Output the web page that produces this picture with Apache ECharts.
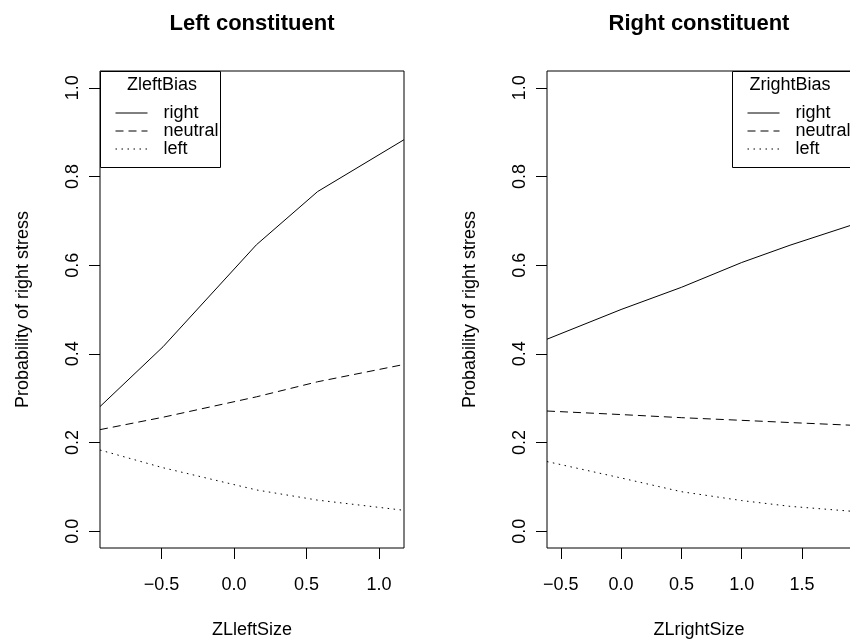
<!DOCTYPE html>
<html><head><meta charset="utf-8">
<script src="https://cdn.jsdelivr.net/npm/echarts@6/dist/echarts.min.js"></script>
<style>html,body{margin:0;padding:0;background:#fff}#c{width:850px;height:639px}</style>
</head><body><div id="c"></div>
<script>
// ---- data ----
const leftX = [-0.925, -0.49, 0.154, 0.576, 1.172];
const leftRight = [0.281, 0.416, 0.646, 0.766, 0.883];
const leftNeutral = [0.229, 0.257, 0.303, 0.337, 0.376];
const leftLeft = [0.183, 0.143, 0.093, 0.070, 0.047];

const rightX = [-0.614, 0, 0.5, 1.0, 1.4, 1.906];
const rightRight = [0.433, 0.500, 0.550, 0.606, 0.645, 0.690];
const rightNeutral = [0.271, 0.263, 0.256, 0.250, 0.245, 0.239];
const rightLeft = [0.157, 0.120, 0.089, 0.069, 0.056, 0.045];

const yTicks = [0, 0.2, 0.4, 0.6, 0.8, 1.0];
const leftXTicks = [-0.5, 0, 0.5, 1.0];
const rightXTicks = [-0.5, 0, 0.5, 1.0, 1.5];
const levelNames = ['right', 'neutral', 'left'];

const FONT = '"Liberation Sans", Arial, Helvetica, sans-serif';
const fmt = v => v.toFixed(1).replace('-', '\u2212');
const zip = (xs, ys) => xs.map((x, i) => [x, ys[i]]);
const styles = {
  right: { type: 'solid' },
  neutral: { type: [8, 5] },
  left: { type: [1.5, 4.5] }
};

function xAx(gi, min, max, ticks, name) {
  return {
    type: 'value', gridIndex: gi, min: min, max: max,
    name: name, nameLocation: 'middle', nameGap: 73,
    nameTextStyle: { fontSize: 18, color: '#000', fontFamily: FONT, verticalAlign: 'top' },
    axisLine: { show: false, onZero: false }, splitLine: { show: false },
    axisTick: { show: true, customValues: ticks, length: 11, lineStyle: { color: '#000', width: 1 } },
    axisLabel: { customValues: ticks, fontSize: 18, color: '#000', fontFamily: FONT, margin: 28, formatter: fmt }
  };
}
function yAx(gi) {
  return {
    type: 'value', gridIndex: gi, min: -0.038, max: 1.038,
    name: 'Probability of right stress', nameLocation: 'middle', nameGap: 68, nameRotate: 90,
    nameTextStyle: { fontSize: 18, color: '#000', fontFamily: FONT },
    axisLine: { show: false, onZero: false }, splitLine: { show: false },
    axisTick: { show: true, customValues: yTicks, length: 11, lineStyle: { color: '#000', width: 1 } },
    axisLabel: { customValues: yTicks, rotate: 90, fontSize: 18, color: '#000', fontFamily: FONT, margin: 18, formatter: fmt }
  };
}
function ser(name, gi, xs, ys) {
  return {
    name: name, type: 'line', xAxisIndex: gi, yAxisIndex: gi,
    data: zip(xs, ys), showSymbol: false, symbol: 'none', silent: true,
    lineStyle: Object.assign({ color: '#000', width: 1 }, styles[name]),
    itemStyle: { color: '#000' }, animation: false
  };
}
function legend(left) {
  return {
    orient: 'vertical', left: left, top: 104, padding: 0, z: 10,
    itemWidth: 32, itemHeight: 14, itemGap: 0, selectedMode: false,
    data: levelNames,
    itemStyle: { opacity: 0, borderWidth: 0 },
    lineStyle: { width: 1 },
    textStyle: { fontSize: 18, lineHeight: 18, color: '#000', fontFamily: FONT, padding: [0, 0, 0, 11] }
  };
}
function grid(left) {
  return { left: left, top: 71, width: 304, height: 477, show: true, borderColor: '#000', borderWidth: 1,
    backgroundColor: 'transparent', containLabel: false, outerBoundsMode: 'none' };
}

const chart = echarts.init(document.getElementById('c'), null, { renderer: 'canvas' });
chart.setOption({
  backgroundColor: '#fff',
  animation: false,
  title: [
    { text: 'Left constituent', left: 252, top: 13, textAlign: 'center', padding: 0,
      textStyle: { fontSize: 22, fontWeight: 'bold', color: '#000', fontFamily: FONT } },
    { text: 'Right constituent', left: 699, top: 13, textAlign: 'center', padding: 0,
      textStyle: { fontSize: 22, fontWeight: 'bold', color: '#000', fontFamily: FONT } }
  ],
  grid: [grid(100), grid(547)],
  xAxis: [xAx(0, -0.925, 1.172, leftXTicks, 'ZLleftSize'), xAx(1, -0.614, 1.906, rightXTicks, 'ZLrightSize')],
  yAxis: [yAx(0), yAx(1)],
  legend: [legend(115), legend(747)],
  graphic: [
    { type: 'rect', shape: { x: 100.5, y: 71.5, width: 120, height: 96 }, style: { fill: '#fff', stroke: '#000', lineWidth: 1 }, z: 3 },
    { type: 'text', x: 162, y: 85, style: { text: 'ZleftBias', font: '18px ' + FONT, fill: '#000', align: 'center', verticalAlign: 'middle' }, z: 6 },
    { type: 'rect', shape: { x: 732.5, y: 71.5, width: 124, height: 96 }, style: { fill: '#fff', stroke: '#000', lineWidth: 1 }, z: 3 },
    { type: 'text', x: 790, y: 85, style: { text: 'ZrightBias', font: '18px ' + FONT, fill: '#000', align: 'center', verticalAlign: 'middle' }, z: 6 }
  ],
  series: [
    ser('right', 0, leftX, leftRight),
    ser('neutral', 0, leftX, leftNeutral),
    ser('left', 0, leftX, leftLeft),
    ser('right', 1, rightX, rightRight),
    ser('neutral', 1, rightX, rightNeutral),
    ser('left', 1, rightX, rightLeft)
  ]
});
</script></body></html>
